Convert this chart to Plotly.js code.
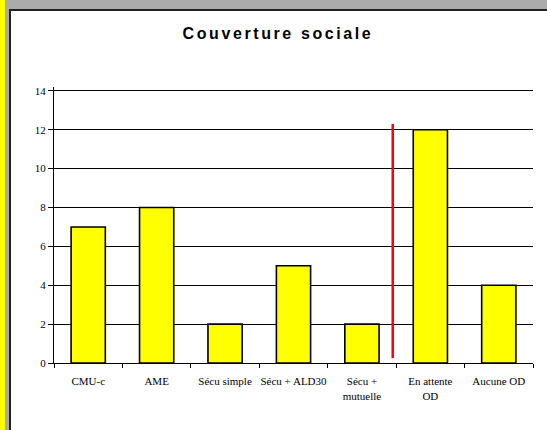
<!DOCTYPE html>
<html><head><meta charset="utf-8">
<script src="https://cdn.plot.ly/plotly-3.0.1.min.js"></script>
<style>
html,body{margin:0;padding:0;}
body{width:547px;height:430px;background:#ababab;position:relative;overflow:hidden;}
#yel{position:absolute;left:0;top:0;width:5px;height:430px;background:#ffff00;}
#frame{position:absolute;left:9px;top:9px;width:538px;height:421px;background:#222;}
#chart{position:absolute;left:11px;top:11px;width:536px;height:419px;}
.gtitle{letter-spacing:2.6px;}
</style></head>
<body>
<div id="yel"></div><div id="frame"></div><div id="chart"></div>
<script>
const categories = ["CMU-c", "AME", "Sécu simple", "Sécu + ALD30", "Sécu +<br>mutuelle", "En attente<br>OD", "Aucune OD"];
const values = [7, 8, 2, 5, 2, 12, 4];
const yTicks = [0, 2, 4, 6, 8, 10, 12, 14];
const separatorX = [4.45, 4.45];
const separatorY = [0.25, 12.3];

const data = [{
  type: 'bar', x: categories, y: values,
  marker: {color: '#ffff00', line: {color: '#000', width: 1.6}},
  width: 0.5, hoverinfo: 'none'
}];
const layout = {
  width: 536, height: 419,
  margin: {l: 43, r: 14, t: 76, b: 67},
  paper_bgcolor: '#fff', plot_bgcolor: '#fff',
  showlegend: false,
  title: {text: '<b>Couverture sociale</b>', font: {family: 'Liberation Sans, Arial', size: 16, color: '#000'},
    x: 0.498, xanchor: 'center', y: 1 - 22/419, yanchor: 'middle', yref: 'container'},
  xaxis: {type: 'category', tickson: 'boundaries', ticks: 'outside', ticklen: 4, tickcolor: '#000', tickangle: 0,
    ticklabelstandoff: 8,
    showline: true, linecolor: '#000', linewidth: 1, showgrid: false, zeroline: false,
    tickfont: {family: 'Liberation Serif, Times New Roman', size: 11, color: '#000'}, fixedrange: true},
  yaxis: {range: [0, 14.2], tickvals: yTicks, ticks: 'outside', ticklen: 5, tickcolor: '#000',
    showline: true, linecolor: '#000', linewidth: 1, showgrid: true, gridcolor: '#000', gridwidth: 1,
    zeroline: false, tickfont: {family: 'Liberation Serif, Times New Roman', size: 11, color: '#000'}, fixedrange: true},
  shapes: [{type: 'line', xref: 'x', yref: 'y', x0: separatorX[0], x1: separatorX[1], y0: separatorY[0], y1: separatorY[1],
    line: {color: '#ff0000', width: 2.5}}]
};
Plotly.newPlot('chart', data, layout, {displayModeBar: false, staticPlot: true});
</script></body></html>
